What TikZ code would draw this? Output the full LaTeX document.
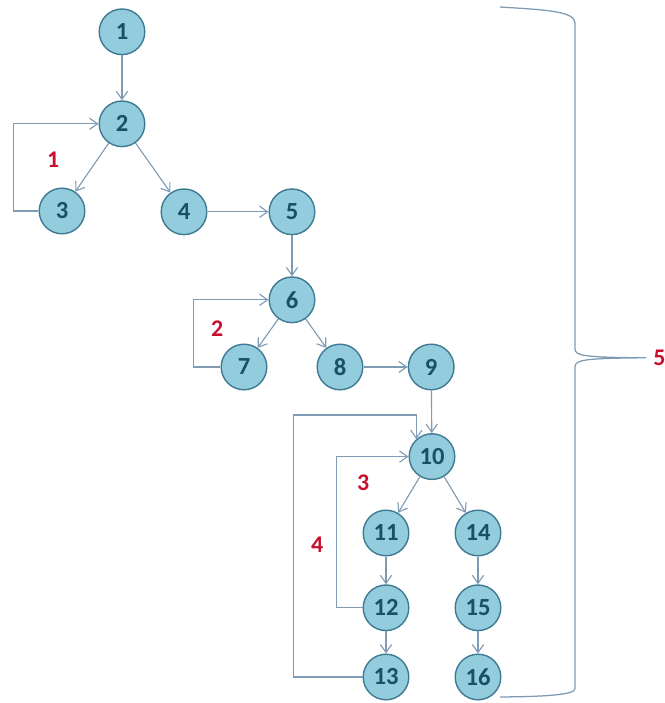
\documentclass[tikz,border=0pt]{standalone}
\usepackage{fontspec}
\setmainfont{Carlito}
\usetikzlibrary{arrows.meta}
\definecolor{nodefill}{HTML}{93CDDD}
\definecolor{nodeline}{HTML}{3E7A93}
\definecolor{nodetext}{HTML}{1B4F66}
\definecolor{edgecol}{HTML}{7E9BB5}
\definecolor{pathred}{HTML}{C8102E}
\tikzset{
  vertex/.style={circle, draw=nodeline, fill=nodefill, line width=1pt, minimum size=11.4mm, inner sep=0pt, text=nodetext, font=\fontsize{17.5}{19}\selectfont\bfseries},
  arrow/.style={-{Straight Barb[length=2mm,width=2.8mm]}, draw=edgecol, line width=0.8pt},
  pathno/.style={text=pathred, inner sep=0pt, font=\fontsize{17}{19}\selectfont\bfseries},
  brace/.style={draw=edgecol, line width=0.9pt}
}

\begin{document}
\begin{tikzpicture}
  \useasboundingbox (0,0) rectangle (16.625,17.575);
  % flow graph
  \node[vertex] (1) at (3.05,16.78) {1};
  \node[vertex] (2) at (3.05,14.48) {2};
  \node[vertex] (3) at (1.55,12.30) {3};
  \node[vertex] (4) at (4.60,12.28) {4};
  \node[vertex] (5) at (7.30,12.28) {5};
  \node[vertex] (6) at (7.30,10.08) {6};
  \node[vertex] (7) at (6.10,8.40) {7};
  \node[vertex] (8) at (8.50,8.40) {8};
  \node[vertex] (9) at (10.78,8.40) {9};
  \node[vertex] (10) at (10.80,6.16) {10};
  \node[vertex] (11) at (9.65,4.25) {11};
  \node[vertex] (12) at (9.65,2.38) {12};
  \node[vertex] (13) at (9.65,0.65) {13};
  \node[vertex] (14) at (11.95,4.25) {14};
  \node[vertex] (15) at (11.95,2.38) {15};
  \node[vertex] (16) at (11.95,0.65) {16};
  \draw[arrow] (1)--(2); \draw[arrow] (2)--(3); \draw[arrow] (2)--(4);
  \draw[arrow] (4)--(5); \draw[arrow] (5)--(6);
  \draw[arrow] (6)--(7); \draw[arrow] (6)--(8); \draw[arrow] (8)--(9);
  \draw[arrow] (9)--(10); \draw[arrow] (10)--(11); \draw[arrow] (10)--(14);
  \draw[arrow] (11)--(12); \draw[arrow] (12)--(13);
  \draw[arrow] (14)--(15); \draw[arrow] (15)--(16);
  % back edges
  \draw[arrow] (3.west) -- ++(-0.62,0) |- (2.west);
  \draw[arrow] (7.west) -- ++(-0.67,0) |- (6.west);
  \draw[arrow] (12.west) -- ++(-0.65,0) |- (10.west);
  \coordinate (t4) at (7.33,7.2);
  \draw[arrow] (13.west) -| (t4) -| (10.132);
  % path numbers
  \node[pathno] (p1) at (1.33,13.58) {1};
  \node[pathno] (p2) at (5.43,9.35) {2};
  \node[pathno] (p3) at (9.08,5.50) {3};
  \node[pathno] (p4) at (7.93,3.95) {4};
  % brace over all paths
  \coordinate (tip) at (16.15,8.63);
  \node[pathno, anchor=west] (p5) at (16.33,8.63) {5};
  \draw[brace] (12.5,17.4) .. controls (13.6,17.33) and (14.375,17.3) .. (14.375,17.0)
    -- (14.375,8.85) .. controls (14.375,8.68) and (14.6,8.64) .. (tip)
    .. controls (14.6,8.62) and (14.375,8.58) .. (14.375,8.40)
    -- (14.375,0.36) .. controls (14.375,0.2) and (13.6,0.16) .. (12.5,0.15);
\end{tikzpicture}
\end{document}
